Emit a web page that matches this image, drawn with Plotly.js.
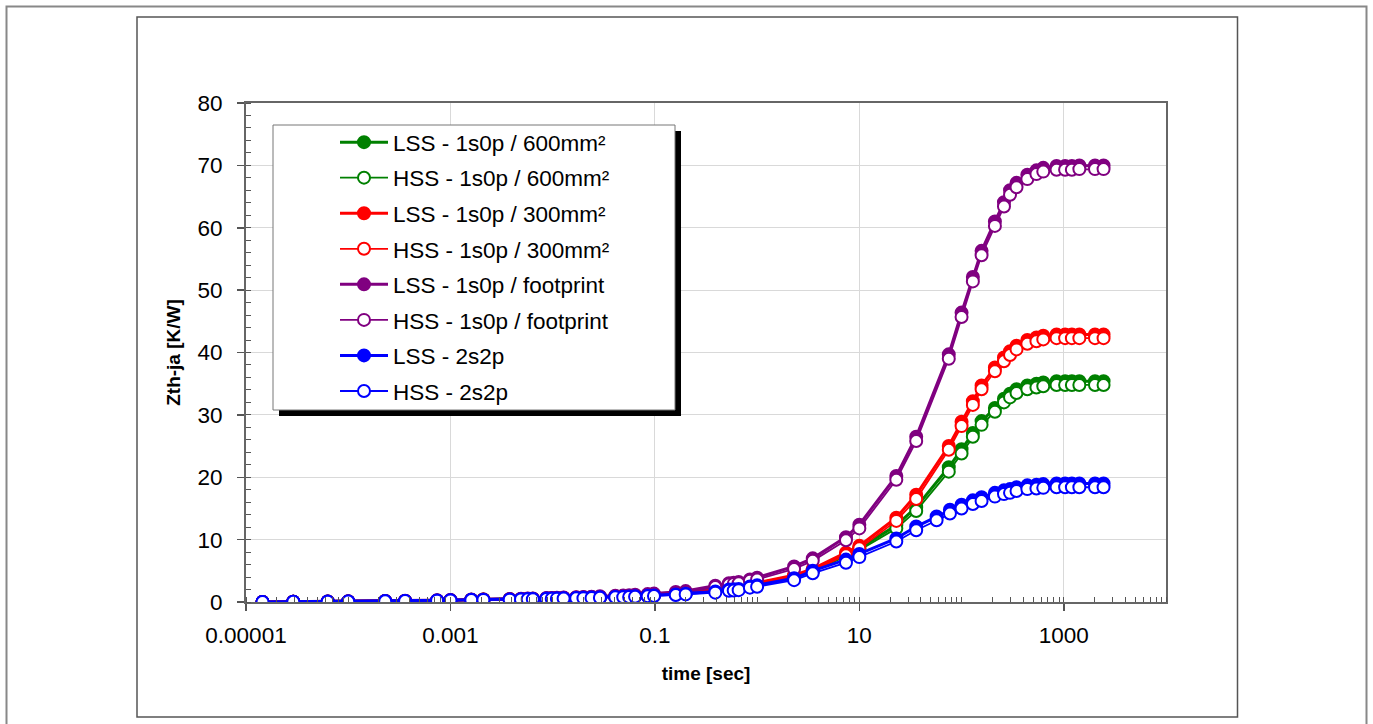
<!DOCTYPE html>
<html>
<head>
<meta charset="utf-8">
<script src="https://cdn.plot.ly/plotly-3.0.1.min.js"></script>
<style>
html,body{margin:0;padding:0;background:#fff;}
#chart{width:1373px;height:724px;}
</style>
</head>
<body>
<div id="chart"></div>
<script>
// ---- data ----
const time1s0p = [1.45e-5,2.9e-5,6.3e-5,1.0e-4,2.3e-4,3.6e-4,7.4e-4,1.0e-3,1.6e-3,2.1e-3,3.8e-3,4.9e-3,5.7e-3,6.4e-3,8.7e-3,9.8e-3,1.1e-2,1.28e-2,1.7e-2,2.0e-2,2.4e-2,2.9e-2,4.1e-2,4.9e-2,5.6e-2,6.4e-2,8.5e-2,9.8e-2,0.16,0.2,
  0.39,0.53,0.59,0.66,0.85,1.0,2.3,3.5,7.4,10,23,36,75,100,129,157,212,260,298,345,440,540,630,850,1030,1200,1420,2020,2450];
const time2s2p = [1.45e-5,2.9e-5,6.3e-5,1.0e-4,2.3e-4,3.6e-4,7.4e-4,1.0e-3,1.6e-3,2.1e-3,3.8e-3,4.9e-3,5.7e-3,6.4e-3,8.7e-3,9.8e-3,1.1e-2,1.28e-2,1.7e-2,2.0e-2,2.4e-2,2.9e-2,4.1e-2,4.9e-2,5.6e-2,6.4e-2,8.5e-2,9.8e-2,0.16,0.2,
  0.39,0.53,0.59,0.66,0.85,1.0,2.3,3.5,7.4,10,23,36,57,77,100,129,157,212,260,298,345,440,540,630,850,1030,1200,1420,2020,2450];

const lss600 = [0.02,0.05,0.08,0.10,0.15,0.18,0.25,0.30,0.36,0.39,0.43,0.47,0.49,0.51,0.57,0.59,0.62,0.65,0.69,0.72,0.76,0.80,0.87,0.91,0.95,0.99,1.09,1.15,1.35,1.47,
  1.9,2.2,2.3,2.4,2.8,3.0,4.1,5.1,7.6,8.6,12.3,15.2,21.6,24.5,27.1,29.0,31.1,32.6,33.4,34.1,34.7,35.0,35.2,35.4,35.4,35.4,35.4,35.4,35.4];
const hss600 = [0.00,0.03,0.06,0.08,0.12,0.15,0.22,0.26,0.32,0.35,0.39,0.43,0.44,0.46,0.51,0.54,0.56,0.59,0.63,0.66,0.69,0.72,0.79,0.83,0.86,0.90,0.99,1.05,1.23,1.34,
  1.8,2.0,2.1,2.2,2.6,2.8,3.9,4.9,7.3,8.3,11.8,14.6,20.9,23.8,26.5,28.4,30.5,32.0,32.8,33.5,34.1,34.4,34.6,34.8,34.8,34.8,34.8,34.8,34.8];
const lss300 = [0.02,0.05,0.08,0.10,0.15,0.18,0.25,0.30,0.37,0.40,0.44,0.48,0.51,0.53,0.58,0.61,0.64,0.67,0.71,0.74,0.78,0.82,0.89,0.94,0.97,1.02,1.12,1.18,1.39,1.51,
  2.0,2.3,2.4,2.5,2.9,3.1,4.3,5.3,7.9,9.0,13.5,17.2,25.0,28.9,32.2,34.7,37.6,39.2,40.2,41.1,42.0,42.4,42.7,42.9,42.9,42.9,42.9,42.9,42.9];
const hss300 = [0.00,0.03,0.06,0.08,0.12,0.15,0.22,0.26,0.32,0.35,0.39,0.43,0.45,0.47,0.52,0.55,0.57,0.60,0.64,0.67,0.70,0.74,0.81,0.85,0.88,0.93,1.02,1.08,1.27,1.38,
  1.9,2.1,2.2,2.3,2.7,2.9,4.0,5.0,7.5,8.6,13.0,16.5,24.4,28.2,31.6,34.1,37.0,38.6,39.6,40.5,41.4,41.8,42.1,42.3,42.3,42.3,42.3,42.3,42.3];
const lssFoot = [0.02,0.05,0.08,0.11,0.16,0.19,0.27,0.32,0.39,0.42,0.47,0.52,0.55,0.57,0.63,0.66,0.69,0.72,0.78,0.81,0.86,0.91,1.00,1.06,1.10,1.16,1.27,1.35,1.60,1.75,
  2.6,3.0,3.1,3.2,3.6,3.9,5.7,7.0,10.4,12.4,20.2,26.5,39.7,46.4,52.1,56.3,61.0,64.1,66.0,67.2,68.5,69.2,69.6,69.9,69.9,69.9,70.0,70.0,70.0];
const hssFoot = [0.00,0.03,0.06,0.08,0.12,0.15,0.22,0.27,0.33,0.36,0.40,0.45,0.47,0.49,0.55,0.58,0.60,0.63,0.68,0.71,0.75,0.80,0.88,0.93,0.97,1.02,1.12,1.19,1.42,1.56,
  2.4,2.8,2.9,3.0,3.4,3.6,5.3,6.6,9.9,11.8,19.6,25.8,39.0,45.7,51.4,55.6,60.3,63.4,65.3,66.5,67.8,68.6,69.0,69.3,69.3,69.3,69.4,69.4,69.4];
const lss2s2p = [0.02,0.05,0.08,0.10,0.15,0.18,0.25,0.30,0.36,0.38,0.42,0.46,0.48,0.50,0.55,0.57,0.59,0.62,0.66,0.68,0.71,0.75,0.82,0.85,0.88,0.92,1.00,1.06,1.22,1.33,
  1.7,2.0,2.05,2.1,2.5,2.7,3.8,5.0,6.8,7.7,10.2,12.1,13.7,14.8,15.6,16.3,16.8,17.5,17.9,18.1,18.4,18.7,18.8,18.9,19.0,19.0,19.0,19.0,19.0,19.0];
const hss2s2p = [0.00,0.03,0.06,0.08,0.12,0.15,0.22,0.26,0.32,0.34,0.38,0.42,0.43,0.45,0.50,0.52,0.54,0.56,0.60,0.62,0.65,0.68,0.75,0.78,0.80,0.84,0.92,0.97,1.12,1.22,
  1.5,1.8,1.85,1.9,2.3,2.45,3.5,4.6,6.3,7.2,9.7,11.5,13.1,14.2,15.0,15.7,16.2,16.9,17.3,17.5,17.8,18.1,18.2,18.3,18.4,18.4,18.4,18.4,18.4,18.4];

const seriesNames = ["LSS - 1s0p / 600mm²","HSS - 1s0p / 600mm²","LSS - 1s0p / 300mm²","HSS - 1s0p / 300mm²",
  "LSS - 1s0p / footprint","HSS - 1s0p / footprint","LSS - 2s2p","HSS - 2s2p"];
const xTickVals = [1e-5,1e-3,1e-1,10,1000];
const xTickText = ["0.00001","0.001","0.1","10","1000"];

// ---- styling ----
const COLORS = ["#008000","#008000","#FF0000","#FF0000","#800080","#800080","#0000FF","#0000FF"];
const Y = [lss600,hss600,lss300,hss300,lssFoot,hssFoot,lss2s2p,hss2s2p];
const X = [time1s0p,time1s0p,time1s0p,time1s0p,time1s0p,time1s0p,time2s2p,time2s2p];

const traces = Y.map((ys,i)=>{
  const filled = i%2===0;
  return {
    x: X[i], y: ys, name: seriesNames[i], type:'scatter', mode:'lines+markers',
    legendgroup: 'g'+i,
    line:{color:COLORS[i], width: filled?3:1.8},
    marker:{symbol:'circle', size:12, color: filled?COLORS[i]:'#FFFFFF', line:{color:COLORS[i], width:2}},
    hoverinfo:'skip'
  };
});

// plot area in pixels
const L=246, R=1166, T=103, B=602;
const px = v => (v-L)/(R-L);
const py = v => (B-v)/(B-T);
const FONT = 'Arial, "Liberation Sans", sans-serif';

const layout = {
  width:1373, height:724,
  margin:{l:L, r:1373-R, t:T, b:724-B, pad:0},
  paper_bgcolor:'#FFFFFF', plot_bgcolor:'#FFFFFF',
  font:{family:FONT, color:'#000', size:22},
  showlegend:true,
  hovermode:false,
  xaxis:{
    type:'log', range:[-5,4], autorange:false,
    tickmode:'array', tickvals:xTickVals, ticktext:xTickText,
    ticks:'outside', ticklen:7, tickwidth:1.5, tickcolor:'#555',
    ticklabelstandoff:5,
    tickfont:{size:22.5, family:FONT},
    showgrid:true, gridcolor:'#D9D9D9', gridwidth:1,
    showline:true, linecolor:'#666', linewidth:2, mirror:true,
    zeroline:false,
    minor:{dtick:'D1', ticks:'inside', ticklen:5, tickcolor:'#555', tickwidth:1, showgrid:false},
    title:{text:'<b>time [sec]</b>', font:{size:19, family:FONT}, standoff:20}
  },
  yaxis:{
    range:[0,80], autorange:false, dtick:10, tick0:0,
    ticks:'outside', ticklen:7, tickwidth:1.5, tickcolor:'#555',
    ticklabelstandoff:10,
    tickfont:{size:22.5, family:FONT},
    showgrid:true, gridcolor:'#D9D9D9', gridwidth:1,
    showline:true, linecolor:'#666', linewidth:2, mirror:true,
    zeroline:false,
    minor:{dtick:2, ticks:'inside', ticklen:5, tickcolor:'#555', tickwidth:1, showgrid:false},
    title:{text:'<b>Zth-ja [K/W]</b>', font:{size:19, family:FONT}, standoff:12}
  },
  legend:{
    x:px(335), y:py(121), xanchor:'left', yanchor:'top',
    bgcolor:'rgba(0,0,0,0)', borderwidth:0,
    font:{size:22.5, family:FONT, color:'#000'},
    tracegroupgap:3.3, itemwidth:48, traceorder:'grouped'
  },
  shapes:[
    {type:'rect', xref:'paper', yref:'paper', x0:px(6.5), x1:px(1366.5), y0:py(6.5), y1:py(760), line:{color:'#888', width:2}, fillcolor:'rgba(0,0,0,0)', layer:'below'},
    {type:'rect', xref:'paper', yref:'paper', x0:px(137), x1:px(1237.5), y0:py(17), y1:py(717), line:{color:'#555', width:1.5}, fillcolor:'rgba(0,0,0,0)', layer:'below'},
    {type:'rect', xref:'paper', yref:'paper', x0:px(279), x1:px(681), y0:py(131), y1:py(416), line:{width:0}, fillcolor:'#000', layer:'above'},
    {type:'rect', xref:'paper', yref:'paper', x0:px(273), x1:px(675), y0:py(125), y1:py(410), line:{color:'#777', width:1}, fillcolor:'#FFF', layer:'above'}
  ]
};

Plotly.newPlot('chart', traces, layout, {staticPlot:true, displayModeBar:false});
</script>
</body>
</html>
